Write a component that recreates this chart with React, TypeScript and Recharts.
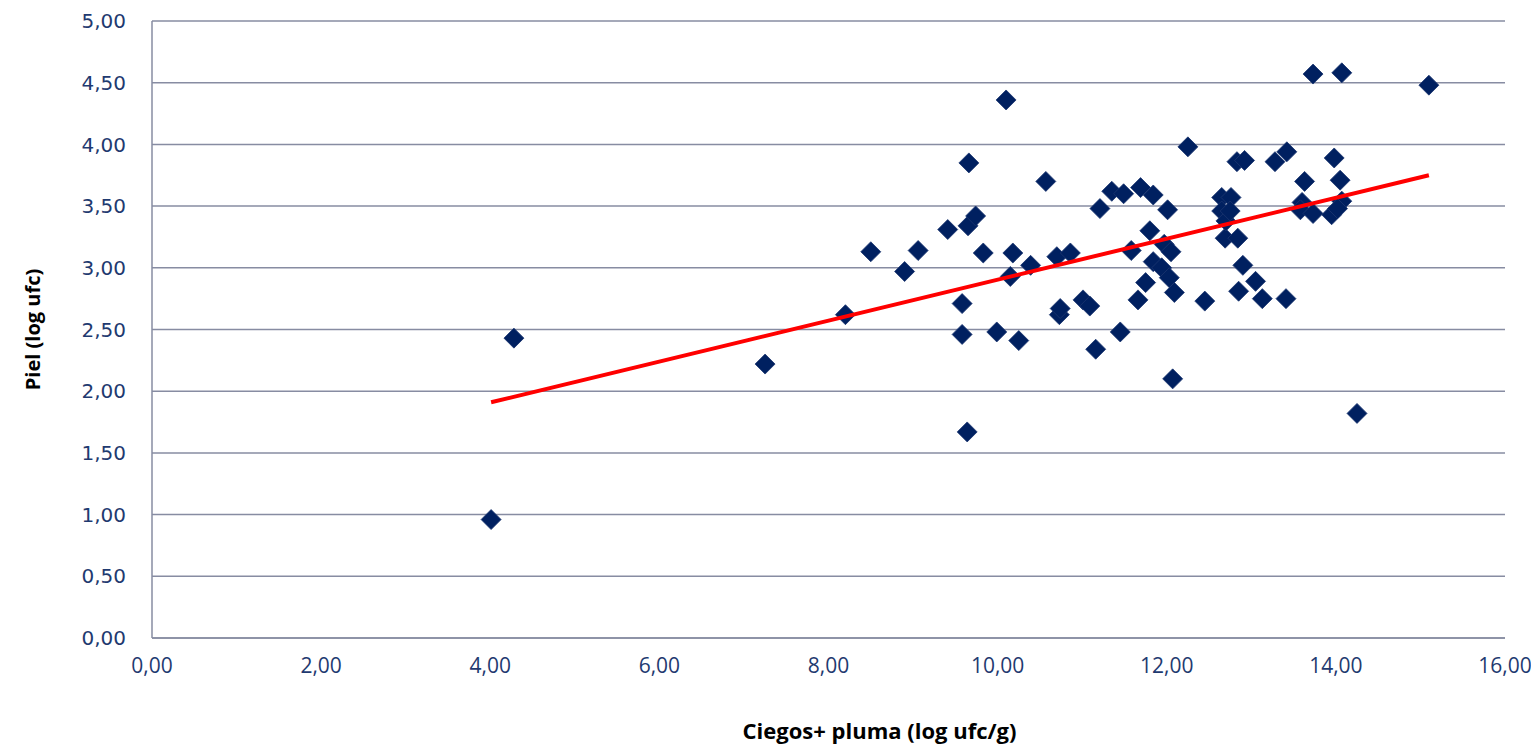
import { ScatterChart, Scatter, XAxis, YAxis, CartesianGrid } from 'recharts'

// Ciegos+ pluma (log ufc/g) values
const ciegosPluma = [
  4.01, 4.28, 7.25, 8.2, 8.5, 8.9, 9.06, 9.41, 9.58, 9.58,
  9.64, 9.66, 9.65, 9.74, 9.83, 9.99, 10.1, 10.15, 10.18, 10.25,
  10.39, 10.57, 10.7, 10.73, 10.74, 10.86, 11.01, 11.09, 11.16, 11.21,
  11.35, 11.45, 11.49, 11.58, 11.69, 11.66, 11.75, 11.8, 11.84, 11.84,
  11.94, 11.97, 12.01, 12.03, 12.05, 12.07, 12.09, 12.25, 12.45, 12.65,
  12.65, 12.69, 12.7, 12.76, 12.75, 12.83, 12.84, 12.85, 12.92, 12.9,
  13.05, 13.13, 13.28, 13.42, 13.41, 13.63, 13.6, 13.58, 13.73, 13.73,
  13.95, 13.98, 14.05, 14.07, 14.07, 14.02, 14.25, 15.1,
]

// Piel (log ufc) values, same order
const piel = [
  0.96, 2.43, 2.22, 2.62, 3.13, 2.97, 3.14, 3.31, 2.71, 2.46,
  1.67, 3.85, 3.34, 3.42, 3.12, 2.48, 4.36, 2.93, 3.12, 2.41,
  3.02, 3.7, 3.09, 2.62, 2.67, 3.12, 2.74, 2.69, 2.34, 3.48,
  3.62, 2.48, 3.6, 3.14, 3.65, 2.74, 2.88, 3.3, 3.59, 3.05,
  3.0, 3.19, 3.47, 2.92, 3.13, 2.1, 2.8, 3.98, 2.73, 3.57,
  3.46, 3.24, 3.38, 3.57, 3.46, 3.86, 3.24, 2.81, 3.87, 3.02,
  2.89, 2.75, 3.86, 3.94, 2.75, 3.7, 3.53, 3.47, 3.44, 4.57,
  3.43, 3.89, 3.71, 4.58, 3.54, 3.48, 1.82, 4.48,
]

// linear trend line endpoints
const trendX = [4.01, 15.1]
const trendY = [1.91, 3.75]

const xTicks = [0, 2, 4, 6, 8, 10, 12, 14, 16]
const yTicks = [0, 0.5, 1, 1.5, 2, 2.5, 3, 3.5, 4, 4.5, 5]

const points = ciegosPluma.map((x, i) => ({ x, y: piel[i] }))
const trend = trendX.map((x, i) => ({ x, y: trendY[i] }))

const fmt = (v: number) => v.toFixed(2).replace('.', ',')

const gridColor = '#878ca2'
const tickColor = '#1f3a70'
const narrow = 'Open Sans, Liberation Sans, sans-serif'

function Diamond(props: any) {
  const { cx, cy } = props
  if (cx == null || cy == null) return <g />
  const r = 10
  return (
    <path
      d={`M${cx},${cy - r}L${cx + r},${cy}L${cx},${cy + r}L${cx - r},${cy}Z`}
      fill="#002060"
      stroke="#1c3670"
      strokeWidth={0.8}
    />
  )
}

export default function App() {
  return (
    <ScatterChart
      width={1523}
      height={737}
      margin={{ top: 13, right: 26, left: 0, bottom: 0 }}
      style={{ background: '#fff' }}
    >
      <CartesianGrid vertical={false} stroke={gridColor} strokeWidth={1.5} />
      <XAxis
        type="number"
        dataKey="x"
        domain={[0, 16]}
        ticks={xTicks}
        tickFormatter={fmt}
        height={107}
        stroke={gridColor}
        strokeWidth={1.5}
        tickLine={false}
        tickSize={0}
        tickMargin={20}
        tick={{ fill: tickColor, fontSize: 21, fontFamily: narrow }}
        label={{
          value: 'Ciegos+ pluma (log ufc/g)',
          position: 'insideBottom',
          offset: 6,
          dx: 51,
          style: { fill: '#000', fontSize: 22, fontWeight: 700, fontFamily: narrow },
        }}
      />
      <YAxis
        type="number"
        dataKey="y"
        domain={[0, 5]}
        ticks={yTicks}
        tickFormatter={fmt}
        width={144}
        stroke={gridColor}
        strokeWidth={1.5}
        tickLine={false}
        tickSize={0}
        tickMargin={26}
        tick={{ fill: tickColor, fontSize: 20, fontFamily: 'DejaVu Sans, Verdana, sans-serif' }}
        label={{
          value: 'Piel (log ufc)',
          angle: -90,
          position: 'insideLeft',
          offset: 25,
          style: { fill: '#000', fontSize: 20, fontWeight: 700, textAnchor: 'middle', fontFamily: narrow },
        }}
      />
      <Scatter data={points} shape={<Diamond />} isAnimationActive={false} />
      <Scatter
        data={trend}
        line={{ stroke: '#ff0000', strokeWidth: 4 }}
        shape={() => <g />}
        isAnimationActive={false}
      />
    </ScatterChart>
  )
}
